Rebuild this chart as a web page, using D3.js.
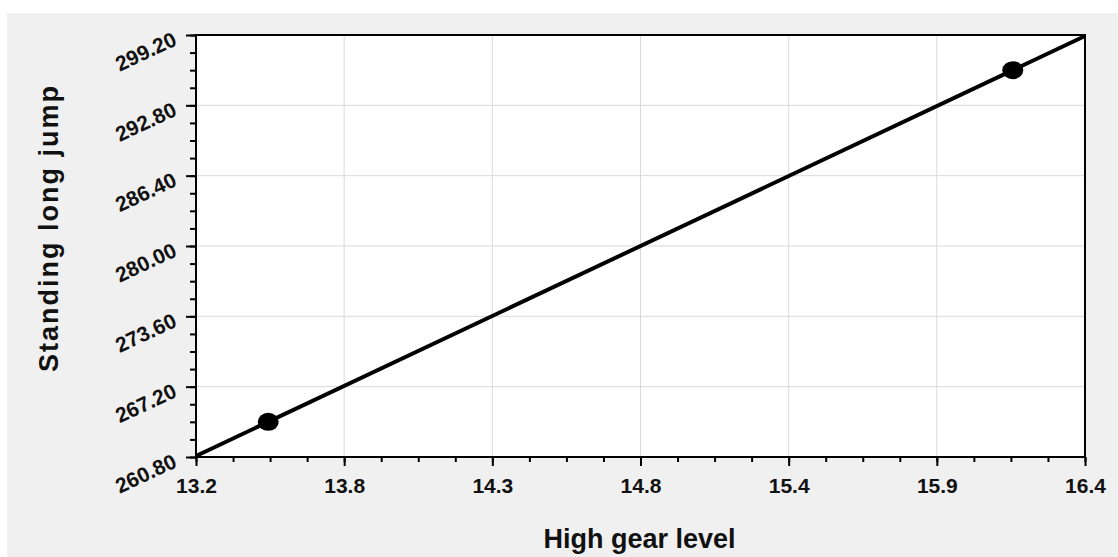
<!DOCTYPE html>
<html>
<head>
<meta charset="utf-8">
<script src="https://cdn.jsdelivr.net/npm/d3@7"></script>
<style>
  body { margin: 0; background: #fff; }
  svg { display: block; font-family: "Liberation Sans", Arial, sans-serif; }
  .title { font-weight: bold; font-size: 27px; fill: #111; }
</style>
</head>
<body>
<div class="svg-container"></div>
<script>
// data
const gearLevel = [13.46, 16.14];
const longJump = [264.0, 296.0];

const xTickLabels = ["13.2", "13.8", "14.3", "14.8", "15.4", "15.9", "16.4"];
const yTickLabels = ["260.80", "267.20", "273.60", "280.00", "286.40", "292.80", "299.20"];
const xRange = [13.2, 16.4];
const yRange = [260.8, 299.2];

const W = 1118, H = 557;
let margin = { top: 35, right: 33, bottom: 100, left: 196 },
  width = W - margin.left - margin.right,
  height = H - margin.top - margin.bottom;

let svg = d3.select(".svg-container").append("svg")
  .attr("width", W)
  .attr("height", H);

// grey panel
svg.append("rect")
  .attr("x", 7).attr("y", 13)
  .attr("width", W - 7).attr("height", H - 13)
  .attr("fill", "#f0f0f0");

let g = svg.append("g")
  .attr("transform", "translate(" + margin.left + "," + margin.top + ")");

let x = d3.scaleLinear().domain(xRange).range([0, width]);
let y = d3.scaleLinear().domain(yRange).range([height, 0]);

// evenly spaced ticks, labels come from the arrays
let xMajor = xTickLabels.map((d, i) => xRange[0] + i * (xRange[1] - xRange[0]) / (xTickLabels.length - 1));
let yMajor = yTickLabels.map((d, i) => yRange[0] + i * (yRange[1] - yRange[0]) / (yTickLabels.length - 1));
let xMinor = d3.range((xMajor.length - 1) * 4 + 1).map(i => xRange[0] + i * (xRange[1] - xRange[0]) / ((xMajor.length - 1) * 4));
let yMinor = d3.range((yMajor.length - 1) * 4 + 1).map(i => yRange[0] + i * (yRange[1] - yRange[0]) / ((yMajor.length - 1) * 4));

g.append("rect")
  .attr("width", width).attr("height", height)
  .attr("fill", "#fff");

// grid
g.append("g").selectAll("line")
  .data(xMajor.slice(1, -1))
  .enter().append("line")
  .attr("x1", d => x(d)).attr("x2", d => x(d))
  .attr("y1", 0).attr("y2", height)
  .attr("stroke", "#d9d9d9").attr("stroke-width", 1);

g.append("g").selectAll("line")
  .data(yMajor.slice(1, -1))
  .enter().append("line")
  .attr("y1", d => y(d)).attr("y2", d => y(d))
  .attr("x1", 0).attr("x2", width)
  .attr("stroke", "#d9d9d9").attr("stroke-width", 1);

// minor ticks
g.append("g")
  .attr("transform", "translate(0," + height + ")")
  .call(d3.axisBottom(x).tickValues(xMinor).tickSize(5).tickFormat(""))
  .call(a => a.select(".domain").remove())
  .call(a => a.selectAll("line").attr("stroke", "#000").attr("stroke-width", 2));

g.append("g")
  .call(d3.axisLeft(y).tickValues(yMinor).tickSize(6).tickFormat(""))
  .call(a => a.select(".domain").remove())
  .call(a => a.selectAll("line").attr("stroke", "#000").attr("stroke-width", 2));

// major ticks + labels
let xAxis = g.append("g")
  .attr("transform", "translate(0," + height + ")")
  .call(d3.axisBottom(x).tickValues(xMajor).tickSize(9).tickFormat((d, i) => xTickLabels[i]));
xAxis.select(".domain").remove();
xAxis.selectAll("line").attr("stroke", "#000").attr("stroke-width", 2);
xAxis.selectAll("text")
  .attr("y", 21)
  .attr("dy", "0.71em")
  .attr("fill", "#111")
  .style("font-size", "21px")
  .style("font-weight", "bold");

let yAxis = g.append("g")
  .call(d3.axisLeft(y).tickValues(yMajor).tickSize(10).tickFormat((d, i) => yTickLabels[i]));
yAxis.select(".domain").remove();
yAxis.selectAll("line").attr("stroke", "#000").attr("stroke-width", 2);
yAxis.selectAll("text")
  .attr("x", null).attr("dy", null)
  .attr("fill", "#111")
  .attr("transform", "translate(-18,9) rotate(-25)")
  .style("text-anchor", "end")
  .style("font-size", "21px")
  .style("font-weight", "bold");
yAxis.attr("font-family", null);
xAxis.attr("font-family", null);

// frame
g.append("rect")
  .attr("width", width).attr("height", height)
  .attr("fill", "none")
  .attr("stroke", "#000").attr("stroke-width", 2);

// fitted line across the x range
let mx = d3.mean(gearLevel), my = d3.mean(longJump);
let slope = d3.sum(gearLevel, (v, i) => (v - mx) * (longJump[i] - my)) / d3.sum(gearLevel, v => (v - mx) * (v - mx));
let icpt = my - slope * mx;

g.append("path")
  .datum(xRange)
  .attr("fill", "none")
  .attr("stroke", "#000")
  .attr("stroke-width", 4)
  .attr("d", d3.line().x(d => x(d)).y(d => y(icpt + slope * d)));

// points
g.selectAll(".dot")
  .data(gearLevel.map((v, i) => [v, longJump[i]]))
  .enter().append("ellipse")
  .attr("class", "dot")
  .attr("cx", d => x(d[0]))
  .attr("cy", d => y(d[1]))
  .attr("rx", 10.5)
  .attr("ry", 9)
  .attr("fill", "#000");

// titles
svg.append("text")
  .attr("class", "title")
  .attr("x", margin.left + width / 2 - 1)
  .attr("y", 548)
  .style("text-anchor", "middle")
  .text("High gear level");

svg.append("text")
  .attr("class", "title")
  .attr("transform", "translate(58,228) rotate(-90)")
  .style("text-anchor", "middle")
  .style("letter-spacing", "2px")
  .text("Standing long jump");
</script>
</body>
</html>
